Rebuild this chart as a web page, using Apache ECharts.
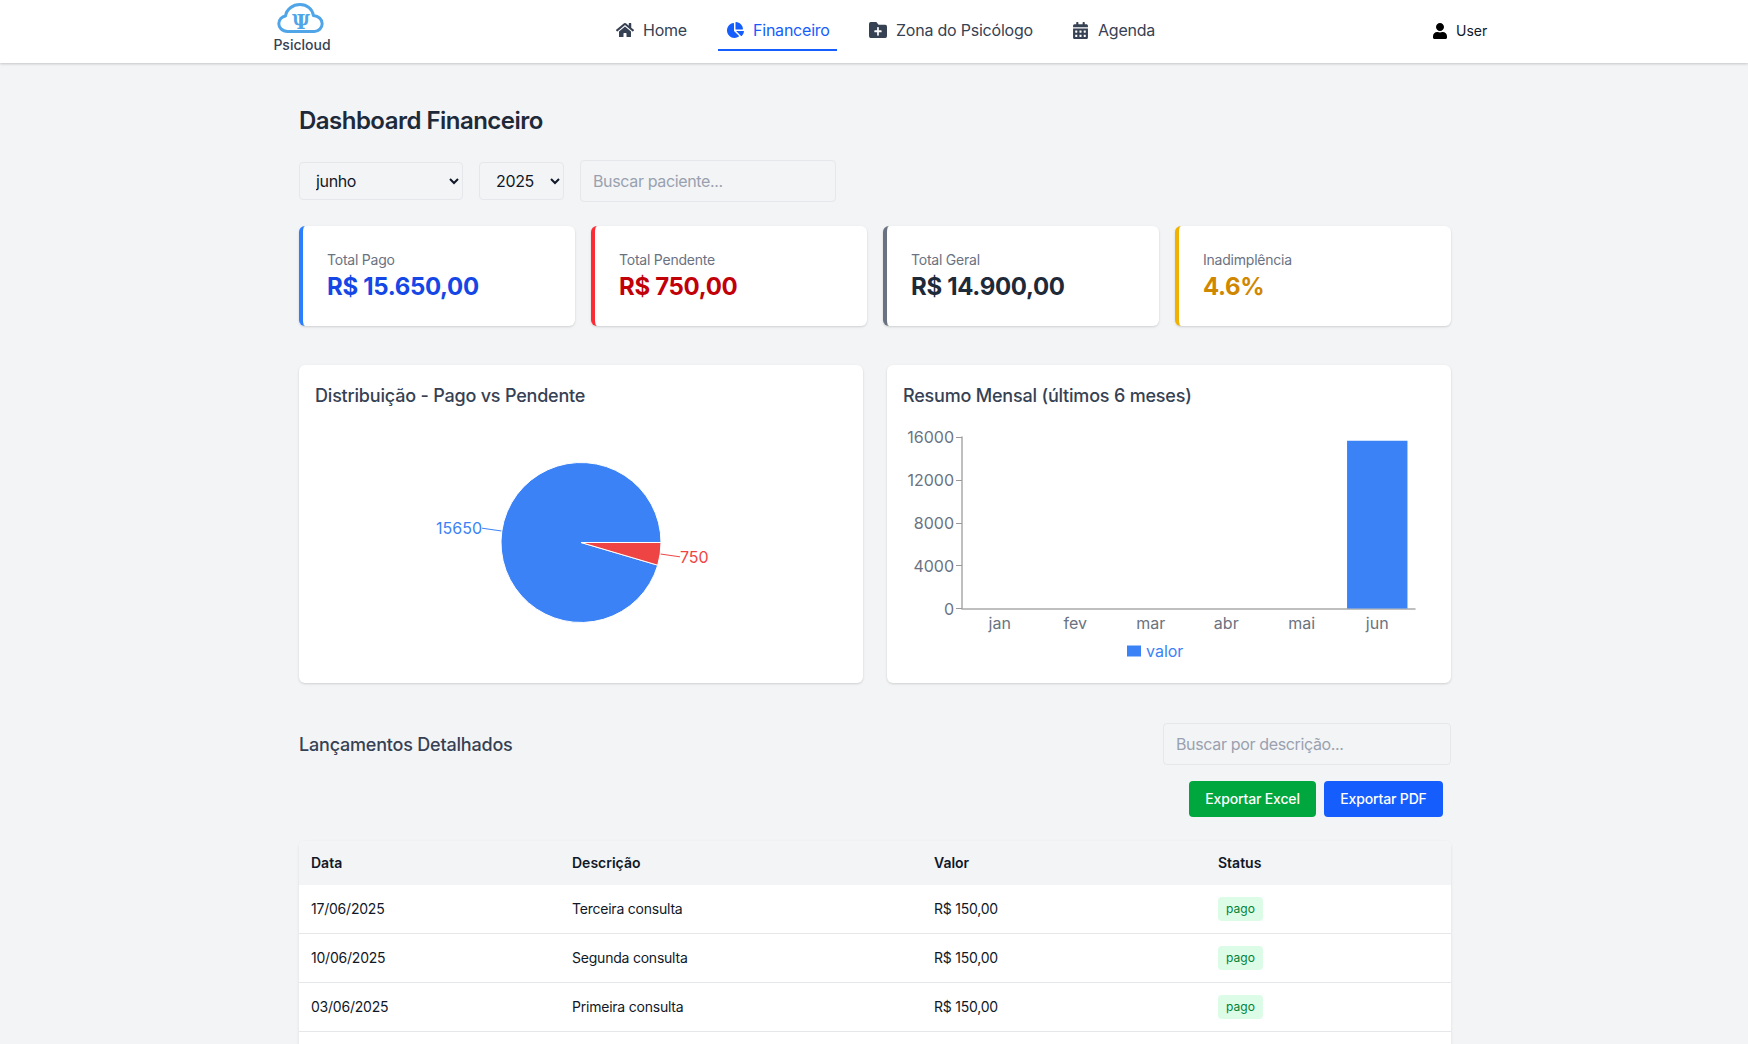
<!DOCTYPE html>
<html lang="pt-BR">
<head>
<meta charset="utf-8">
<title>Dashboard Financeiro</title>
<script src="https://cdn.jsdelivr.net/npm/echarts@6/dist/echarts.min.js"></script>
<style>
*{box-sizing:border-box}
html,body{margin:0;padding:0;width:1748px;height:1044px;overflow:hidden;background:#f3f4f6;font-family:Inter,sans-serif;color:#101828}
.a{position:absolute}
.t{position:absolute;white-space:nowrap;line-height:24px;height:24px}
nav{position:absolute;left:0;top:0;width:1748px;height:63px;background:#fff;box-shadow:0 1px 3px rgba(0,0,0,.12),0 1px 2px rgba(0,0,0,.08)}
.nav{font-size:16px;color:#364153;top:18px;letter-spacing:-.22px}
.ic{position:absolute;fill:#364153}
.field{position:absolute;border:1px solid #e5e7eb;border-radius:4px;background:transparent;font:16px Inter,sans-serif;letter-spacing:-.35px;color:#101828;outline:none}
input.field{padding:0 12px}
input.field::placeholder{color:#99a1af;opacity:1}
select.field{padding:0 0 0 12px}
.card{position:absolute;top:226px;width:276px;height:99.5px;background:#fff;border-radius:6px;border-left:4px solid;box-shadow:0 1px 3px rgba(0,0,0,.1),0 1px 2px rgba(0,0,0,.06)}
.lbl{left:24px;top:22px;font-size:14px;color:#6a7282;letter-spacing:-.22px}
.val{left:24px;top:46px;font-size:24px;font-weight:700;line-height:30px;height:30px;letter-spacing:-.33px}
.panel{position:absolute;top:365px;width:564px;height:318px;background:#fff;border-radius:6px;box-shadow:0 1px 3px rgba(0,0,0,.1),0 1px 2px rgba(0,0,0,.06)}
.h3{font-size:18px;font-weight:500;color:#364153;letter-spacing:-.2px}
.btn{position:absolute;top:781px;height:36px;border-radius:4px;color:#fff;font-size:14px;font-weight:500;line-height:36px;text-align:center;letter-spacing:-.15px}
.tbl{position:absolute;left:299px;top:841px;width:1152px;height:220px;background:#fff;border-radius:6px 6px 0 0;box-shadow:0 1px 3px rgba(0,0,0,.1)}
.th{position:absolute;left:0;top:0;width:1152px;height:44px;background:#f3f4f6;border-radius:6px 6px 0 0}
.hc{font-size:14px;font-weight:600;color:#101828;top:10px}
.rw{position:absolute;left:0;width:1152px;height:49px;border-bottom:1px solid #e5e7eb}
.c{font-size:14px;color:#101828;top:12px;letter-spacing:-.22px}
.bd{position:absolute;left:919px;top:12px;width:45px;height:24px;background:#dcfce7;color:#008236;font-size:12px;line-height:24px;text-align:center;border-radius:4px}
</style>
</head>
<body>
<nav>
  <svg class="a" style="left:277px;top:3px" width="48" height="31" viewBox="0 0 46 30">
    <path d="M10 27.5C4.5 27.5 1.5 23.5 1.5 20C1.5 16 4.5 13 8 12.5C9 6 15 1.5 22 1.5C29 1.5 34 6 35 12C40 12.5 43.5 16 43.5 20C43.5 24 40 27.5 36 27.5Z" fill="none" stroke="#4fa5e8" stroke-width="2.9" stroke-linejoin="round"/>
    <text x="23" y="25" text-anchor="middle" font-family="DejaVu Serif" font-size="19" font-weight="700" fill="#4fa5e8">Ψ</text>
  </svg>
  <div class="t" style="left:272px;top:33px;width:60px;text-align:center;font-size:14px;font-weight:500;color:#364153">Psicloud</div>

  <svg class="ic" style="left:616px;top:22px" width="18" height="16" viewBox="0 0 576 512"><path d="M280.37 148.26L96 300.11V464a16 16 0 0 0 16 16l112.06-.29a16 16 0 0 0 15.92-16V368a16 16 0 0 1 16-16h64a16 16 0 0 1 16 16v95.64a16 16 0 0 0 16 16.05L464 480a16 16 0 0 0 16-16V300L295.67 148.26a12.19 12.19 0 0 0-15.3 0zM571.6 251.47L488 182.56V44.05a12 12 0 0 0-12-12h-56a12 12 0 0 0-12 12v72.61L318.47 43a48 48 0 0 0-61 0L4.34 251.47a12 12 0 0 0-1.6 16.9l25.5 31A12 12 0 0 0 45.15 301l235.22-193.74a12.19 12.19 0 0 1 15.3 0L530.9 301a12 12 0 0 0 16.9-1.6l25.5-31a12 12 0 0 0-1.7-16.93z"/></svg>
  <div class="t nav" style="left:643px">Home</div>
  <svg class="ic" style="left:727px;top:22px;fill:#155dfc" width="17" height="16" viewBox="0 0 544 512"><path d="M527.79 288H290.5l158.03 158.03c6.04 6.04 15.98 6.53 22.19.68 38.7-36.46 65.32-85.61 73.13-140.86 1.34-9.46-6.51-17.85-16.06-17.85zm-15.83-64.8C503.72 103.74 408.26 8.28 288.8.04 279.68-.59 272 7.1 272 16.24V240h223.77c9.14 0 16.82-7.68 16.19-16.8zM224 288V50.71c0-9.55-8.39-17.4-17.84-16.06C86.99 51.49-4.1 155.6.14 280.37 4.5 408.51 114.83 513.59 243.03 511.98c50.4-.63 96.97-16.87 135.26-44.03 7.9-5.6 8.42-17.23 1.57-24.08L224 288z"/></svg>
  <div class="t nav" style="left:753px;color:#155dfc">Financeiro</div>
  <div class="a" style="left:718px;top:49px;width:119px;height:2px;background:#155dfc"></div>
  <svg class="ic" style="left:869px;top:22px" width="18" height="16" viewBox="0 64 512 384" preserveAspectRatio="none"><path d="M464,128H272L208,64H48A48,48,0,0,0,0,112V400a48,48,0,0,0,48,48H464a48,48,0,0,0,48-48V176A48,48,0,0,0,464,128ZM359.5,296a16,16,0,0,1-16,16h-64v64a16,16,0,0,1-16,16h-16a16,16,0,0,1-16-16V312h-64a16,16,0,0,1-16-16V280a16,16,0,0,1,16-16h64V200a16,16,0,0,1,16-16h16a16,16,0,0,1,16,16v64h64a16,16,0,0,1,16,16Z"/></svg>
  <div class="t nav" style="left:896px">Zona do Psicólogo</div>
  <svg class="ic" style="left:1073px;top:22px" width="15" height="17" viewBox="0 0 448 512"><path d="M0 464c0 26.5 21.5 48 48 48h352c26.5 0 48-21.5 48-48V192H0v272zm320-196c0-6.6 5.4-12 12-12h40c6.6 0 12 5.4 12 12v40c0 6.6-5.4 12-12 12h-40c-6.6 0-12-5.4-12-12v-40zm0 128c0-6.6 5.4-12 12-12h40c6.6 0 12 5.4 12 12v40c0 6.6-5.4 12-12 12h-40c-6.6 0-12-5.4-12-12v-40zM192 268c0-6.6 5.4-12 12-12h40c6.6 0 12 5.4 12 12v40c0 6.6-5.4 12-12 12h-40c-6.6 0-12-5.4-12-12v-40zm0 128c0-6.6 5.4-12 12-12h40c6.6 0 12 5.4 12 12v40c0 6.6-5.4 12-12 12h-40c-6.6 0-12-5.4-12-12v-40zM64 268c0-6.6 5.4-12 12-12h40c6.6 0 12 5.4 12 12v40c0 6.6-5.4 12-12 12H76c-6.6 0-12-5.4-12-12v-40zm0 128c0-6.6 5.4-12 12-12h40c6.6 0 12 5.4 12 12v40c0 6.6-5.4 12-12 12H76c-6.6 0-12-5.4-12-12v-40zM400 64h-48V16c0-8.8-7.2-16-16-16h-32c-8.8 0-16 7.2-16 16v48H160V16c0-8.8-7.2-16-16-16h-32c-8.8 0-16 7.2-16 16v48H48C21.5 64 0 85.5 0 112v48h448v-48c0-26.5-21.5-48-48-48z"/></svg>
  <div class="t nav" style="left:1098px">Agenda</div>
  <svg class="ic" style="left:1433px;top:23px;fill:#000" width="14" height="16" viewBox="0 0 448 512"><path d="M224 256c70.7 0 128-57.3 128-128S294.7 0 224 0 96 57.3 96 128s57.3 128 128 128zm89.6 32h-16.7c-22.2 10.2-46.9 16-72.9 16s-50.6-5.8-72.9-16h-16.7C60.2 288 0 348.2 0 422.4V464c0 26.5 21.5 48 48 48h352c26.5 0 48-21.5 48-48v-41.6c0-74.2-60.2-134.4-134.4-134.4z"/></svg>
  <div class="t" style="left:1456px;top:19px;font-size:14px;font-weight:400;color:#101828">User</div>
</nav>

<div class="t" style="left:299px;top:106px;height:30px;line-height:30px;font-size:24px;font-weight:600;color:#1e2939;letter-spacing:-.52px">Dashboard Financeiro</div>

<select class="field" style="left:299px;top:162px;width:164px;height:38px"><option>junho</option></select>
<select class="field" style="left:479px;top:162px;width:85px;height:38px"><option>2025</option></select>
<input class="field" style="left:580px;top:160px;width:256px;height:42px" placeholder="Buscar paciente...">

<div class="card" style="left:299px;border-color:#2b7fff"><div class="t lbl">Total Pago</div><div class="t val" style="color:#1447e6">R$ 15.650,00</div></div>
<div class="card" style="left:591px;border-color:#fb2c36"><div class="t lbl">Total Pendente</div><div class="t val" style="color:#c10007">R$ 750,00</div></div>
<div class="card" style="left:883px;border-color:#6a7282"><div class="t lbl">Total Geral</div><div class="t val" style="color:#1e2939">R$ 14.900,00</div></div>
<div class="card" style="left:1175px;border-color:#f0b100"><div class="t lbl">Inadimplência</div><div class="t val" style="color:#d08700">4.6%</div></div>

<div class="panel" style="left:299px"><div class="t h3" style="left:16px;top:19px">Distribuição - Pago vs Pendente</div></div>
<div class="panel" style="left:887px"><div class="t h3" style="left:16px;top:19px">Resumo Mensal (últimos 6 meses)</div></div>
<div id="pie" class="a" style="left:315px;top:423px;width:532px;height:250px"></div>
<div id="bar" class="a" style="left:903px;top:423px;width:532px;height:250px"></div>

<div class="t h3" style="left:299px;top:733px">Lançamentos Detalhados</div>
<input class="field" style="left:1163px;top:723px;width:288px;height:42px" placeholder="Buscar por descrição...">
<div class="btn" style="left:1189px;width:127px;background:#00a63e">Exportar Excel</div>
<div class="btn" style="left:1324px;width:119px;background:#155dfc">Exportar PDF</div>

<div class="tbl" id="tbl">
  <div class="th">
    <div class="t hc" style="left:12px">Data</div>
    <div class="t hc" style="left:273px">Descrição</div>
    <div class="t hc" style="left:635px">Valor</div>
    <div class="t hc" style="left:919px">Status</div>
  </div>
</div>

<script>
// Pie chart data
const pieNames = ['Pago', 'Pendente'];
const pieValues = [15650, 750];
const pieColors = ['#3b82f6', '#ef4444'];

// Bar chart data
const months = ['jan', 'fev', 'mar', 'abr', 'mai', 'jun'];
const monthValues = [0, 0, 0, 0, 0, 15650];
const barColor = '#3b82f6';

// Table rows
const rowDates = ['17/06/2025', '10/06/2025', '03/06/2025'];
const rowDescs = ['Terceira consulta', 'Segunda consulta', 'Primeira consulta'];
const rowValues = ['R$ 150,00', 'R$ 150,00', 'R$ 150,00'];
const rowStatus = ['pago', 'pago', 'pago'];

const tbl = document.getElementById('tbl');
rowDates.forEach((d, i) => {
  const r = document.createElement('div');
  r.className = 'rw';
  r.style.top = (44 + 49 * i) + 'px';
  r.innerHTML = '<div class="t c" style="left:12px">' + d + '</div>' +
    '<div class="t c" style="left:273px">' + rowDescs[i] + '</div>' +
    '<div class="t c" style="left:635px">' + rowValues[i] + '</div>' +
    '<div class="bd">' + rowStatus[i] + '</div>';
  tbl.appendChild(r);
});

const font = 'Inter';
const pie = echarts.init(document.getElementById('pie'), null, {renderer: 'svg'});
pie.setOption({
  animation: false,
  series: [{
    type: 'pie',
    center: [266, 119.5],
    radius: [0, 80],
    startAngle: 0,
    clockwise: false,
    avoidLabelOverlap: false,
    itemStyle: {borderColor: '#fff', borderWidth: 1},
    labelLine: {show: true, length: 20, length2: 0, smooth: false, lineStyle: {width: 1}},
    data: pieNames.map((n, i) => ({
      name: n,
      value: pieValues[i],
      itemStyle: {color: pieColors[i]},
      label: {color: pieColors[i]},
      labelLine: {lineStyle: {color: pieColors[i]}}
    })),
    label: {show: true, position: 'outside', formatter: '{c}', fontFamily: font, fontSize: 16, fontWeight: 400, padding: [0, 0, 22, 0], distanceToLabelLine: 0}
  }]
});

const bar = echarts.init(document.getElementById('bar'), null, {renderer: 'svg'});
bar.setOption({
  animation: false,
  grid: {left: 59, width: 453, top: 14, height: 171.5},
  legend: {
    left: 224, top: 220, padding: 0, icon: 'rect', itemWidth: 14, itemHeight: 11, selectedMode: false,
    textStyle: {color: barColor, fontFamily: font, fontSize: 16},
    data: ['valor']
  },
  xAxis: {
    type: 'category',
    data: months,
    axisLine: {lineStyle: {color: '#aaaaaa', width: 1.5}},
    axisTick: {alignWithLabel: true, length: 6, lineStyle: {color: '#999999', width: 1}},
    axisLabel: {color: '#6b7280', fontFamily: font, fontSize: 16, margin: 6}
  },
  yAxis: {
    type: 'value',
    min: 0,
    max: 16000,
    interval: 4000,
    splitLine: {show: false},
    axisLine: {show: true, lineStyle: {color: '#aaaaaa', width: 1.5}},
    axisTick: {show: true, length: 6, lineStyle: {color: '#999999', width: 1}},
    axisLabel: {color: '#6b7280', fontFamily: font, fontSize: 16, margin: 8, formatter: v => String(v)}
  },
  series: [{
    name: 'valor',
    type: 'bar',
    data: monthValues,
    barCategoryGap: '20%',
    itemStyle: {color: barColor}
  }]
});
</script>
</body>
</html>
